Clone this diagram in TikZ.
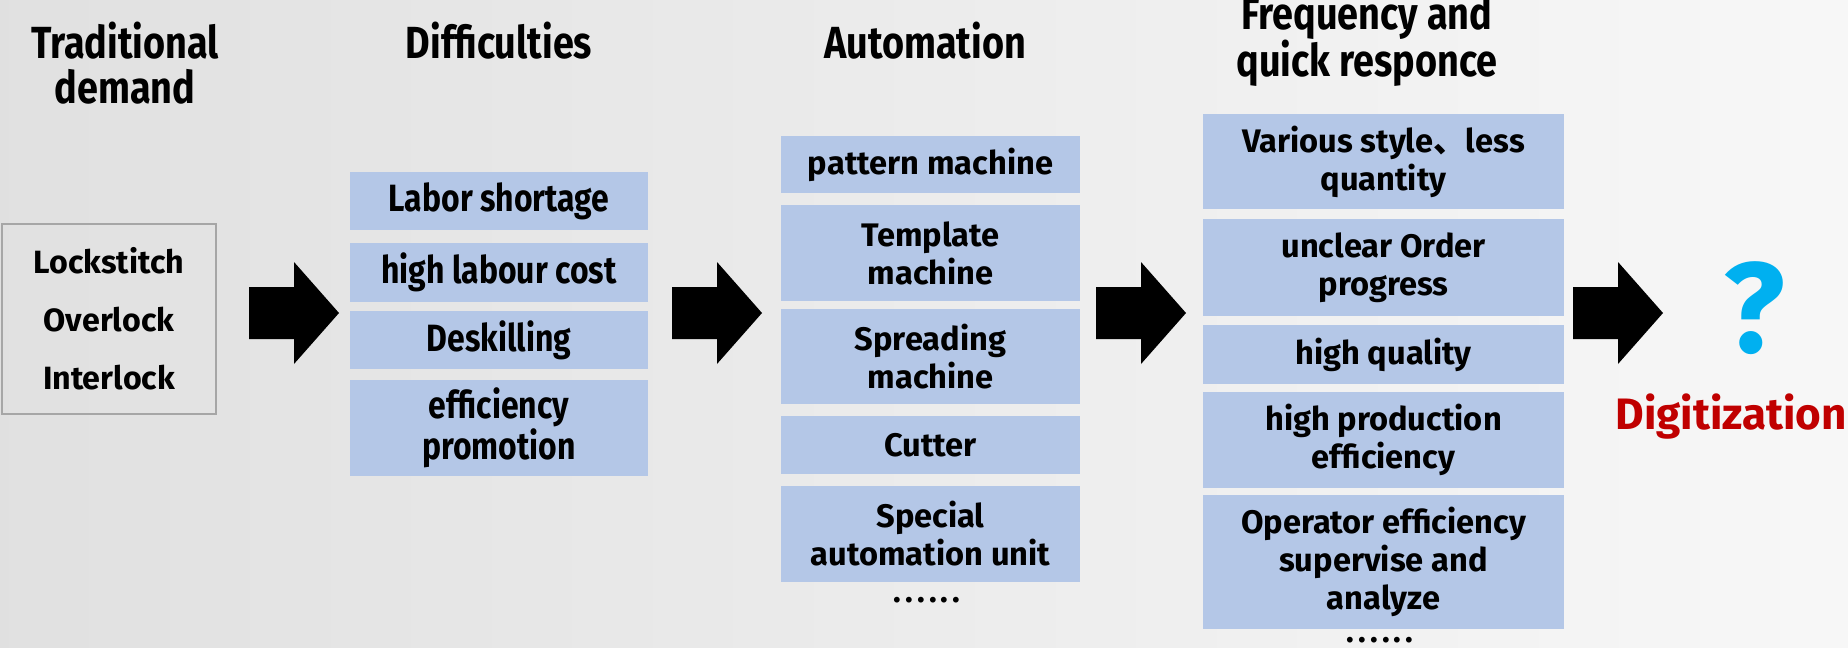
\documentclass[tikz,border=0pt]{standalone}
\usepackage{fontspec}
\setmainfont{Fira Sans}
\newfontfamily\narrow{Fira Sans}[FakeStretch=0.84]
\newfontfamily\cjk{Noto Sans CJK SC}
\definecolor{boxblue}{RGB}{180,199,231}
\definecolor{qblue}{RGB}{0,176,240}
\definecolor{digred}{RGB}{192,0,0}
\definecolor{frame}{RGB}{166,166,166}

\begin{document}
\begin{tikzpicture}[x=0.5pt,y=-0.5pt,
    title/.style={font=\narrow\bfseries\fontsize{22.5}{22.5}\selectfont,align=center,inner sep=0pt},
    cell/.style={fill=boxblue,inner sep=0pt,align=center,font=\bfseries\fontsize{16.3}{19}\selectfont},
    thin cell/.style={cell,font=\narrow\bfseries\fontsize{19}{19}\selectfont,minimum width=149pt},
    auto cell/.style={cell,minimum width=149.5pt},
    freq cell/.style={cell,minimum width=180.5pt},
    dots/.style={inner sep=0pt,anchor=base,font=\bfseries\fontsize{16}{19}\selectfont\addfontfeature{LetterSpace=13}}]
  \useasboundingbox (0,0) rectangle (1848,648);
  \shade[left color=black!12,right color=black!3] (0,0) rectangle (1848,648);

  % column titles
  \node[title] (ttrad) at (125,63) {Traditional\\demand};
  \node[title] (tdiff) at (499,41) {Difficulties};
  \node[title] (tauto) at (925,41) {Automation};
  \node[title,font=\narrow\bfseries\fontsize{22.5}{23.5}\selectfont] (tfreq) at (1367,41)
    {Frequency and\\quick responce};

  % traditional demand
  \node[draw=frame,thick,minimum width=107pt,minimum height=95pt,align=center,
    font=\bfseries\fontsize{16.1}{29}\selectfont] (demand) at (109,319)
    {Lockstitch\\Overlock\\Interlock};

  % difficulties
  \node[thin cell,minimum height=29pt] (labor) at (499,201) {Labor shortage};
  \node[thin cell,minimum height=29.5pt] (cost) at (499,272.5) {high labour cost};
  \node[thin cell,minimum height=29pt] (deskill) at (499,340) {Deskilling};
  \node[thin cell,minimum height=48pt] (promo) at (499,428) {efficiency\\promotion};

  % automation
  \node[auto cell,minimum height=28.5pt] (pattern) at (930.5,164.5) {pattern machine};
  \node[auto cell,minimum height=48pt] (templ) at (930.5,253) {Template\\machine};
  \node[auto cell,minimum height=47.5pt] (spread) at (930.5,356.5) {Spreading\\machine};
  \node[auto cell,minimum height=29pt] (cutter) at (930.5,445) {Cutter};
  \node[auto cell,minimum height=48pt] (special) at (930.5,534) {Special\\automation unit};
  \node[dots] (adots) at (927,602) {......};

  % frequency and quick responce
  \node[freq cell,minimum height=47.5pt] (style) at (1383.5,161.5) {Various style{\cjk 、}less\\quantity};
  \node[freq cell,minimum height=48.5pt] (order) at (1383.5,267.5) {unclear Order\\progress};
  \node[freq cell,minimum height=29.5pt] (quality) at (1383.5,354.5) {high quality};
  \node[freq cell,minimum height=48pt] (prod) at (1383.5,440) {high production\\efficiency};
  \node[freq cell,minimum height=67pt] (oper) at (1383.5,562) {Operator efficiency\\supervise and\\analyze};
  \node[dots] (fdots) at (1380,642) {......};

  % block arrows
  \foreach \x in {249,672,1096,1573}
    \fill (\x,287) -- (\x+45,287) -- (\x+45,262) -- (\x+90,313)
      -- (\x+45,364) -- (\x+45,339) -- (\x,339) -- cycle;

  % result
  \node[text=qblue,font=\bfseries\fontsize{64}{64}\selectfont] (quest) at (1754,308) {?};
  \node[text=digred,font=\bfseries\fontsize{22}{22}\selectfont] (digit) at (1731,417) {Digitization};
\end{tikzpicture}
\end{document}
